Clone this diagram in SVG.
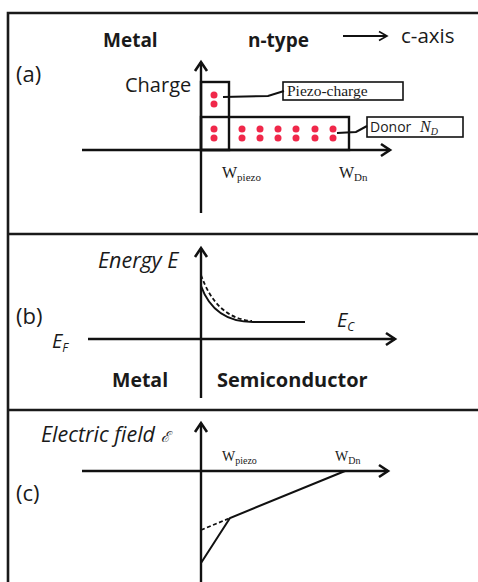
<svg xmlns="http://www.w3.org/2000/svg" width="478" height="582" viewBox="0 0 478 582">
<defs>
<marker id="arr" markerUnits="userSpaceOnUse" markerWidth="16" markerHeight="16" refX="11" refY="7" orient="auto" viewBox="0 0 16 14">
<path d="M2,1 L11,7 L2,13" fill="none" stroke="#111" stroke-width="2.6"/>
</marker>
<marker id="arrs" markerUnits="userSpaceOnUse" markerWidth="14" markerHeight="12" refX="10" refY="6" orient="auto" viewBox="0 0 14 12">
<path d="M2,1.5 L10,6 L2,10.5" fill="none" stroke="#111" stroke-width="1.6"/>
</marker>
<circle id="dot" r="3.5" fill="#f0284a"/>
</defs>
<style>
.frame{stroke:#1a1a1a;stroke-width:2.6;fill:none}
.ax{stroke:#111;stroke-width:2.4;fill:none;marker-end:url(#arr)}
.box{stroke:#111;stroke-width:2.4;fill:none}
.lbl{stroke:#111;stroke-width:1.6;fill:#fff}
.ln{stroke:#111;stroke-width:2;fill:none}
.dash{stroke:#111;stroke-width:1.8;fill:none;stroke-dasharray:4 2.5}
.sb{font-family:"Open Sans","Liberation Sans",sans-serif;font-weight:bold;fill:#1a1a1a}
.sr{font-family:"Open Sans","Liberation Sans",sans-serif;fill:#1a1a1a}
.si{font-family:"Open Sans","Liberation Sans",sans-serif;font-style:italic;fill:#1a1a1a}
.sf{font-family:"Liberation Serif",serif;fill:#1a1a1a}
</style>
<rect width="478" height="582" fill="#fff"/>
<g id="frame">
<path class="frame" d="M8,582 V13 H478 M8,234 H478 M8,410 H478"/>
</g>
<g id="panel-a">
<text class="sr" x="16" y="82" font-size="22">(a)</text>
<text class="sb" x="103" y="47" font-size="19">Metal</text>
<text class="sb" x="248" y="47" font-size="19">n-type</text>
<text class="sr" x="401" y="43" font-size="20.5">c-axis</text>
<text class="sr" x="125" y="92" font-size="20">Charge</text>
<g id="piezo-region">
<rect class="box" x="201" y="82" width="28" height="68"/>
<use href="#dot" x="214" y="95"/><use href="#dot" x="214" y="104"/>
</g>
<g id="donor-region">
<rect class="box" x="201" y="117" width="148" height="33"/>
<use href="#dot" x="214" y="129"/><use href="#dot" x="214" y="138"/>
<use href="#dot" x="242" y="129"/><use href="#dot" x="242" y="138"/>
<use href="#dot" x="260" y="129"/><use href="#dot" x="260" y="138"/>
<use href="#dot" x="278" y="129"/><use href="#dot" x="278" y="138"/>
<use href="#dot" x="296" y="129"/><use href="#dot" x="296" y="138"/>
<use href="#dot" x="315" y="129"/><use href="#dot" x="315" y="138"/>
<use href="#dot" x="333" y="129"/><use href="#dot" x="333" y="138"/>
</g>
<g id="label-piezo">
<rect class="lbl" x="283" y="82" width="120" height="18"/>
<text class="sf" x="287" y="96" font-size="15.5">Piezo-charge</text>
</g>
<g id="label-donor">
<rect class="lbl" x="367" y="117" width="96" height="20"/>
<text class="sr" x="370" y="132" font-size="14">Donor <tspan class="sf" font-style="italic" font-size="16" dx="5">N</tspan><tspan class="sf" font-style="italic" font-size="10" dy="3">D</tspan></text>
</g>
<text class="sf" x="222" y="178" font-size="16">W<tspan font-size="11" dy="3">piezo</tspan></text>
<text class="sf" x="339" y="178" font-size="16">W<tspan font-size="11" dy="3">Dn</tspan></text>
</g>
<g id="panel-b">
<text class="sr" x="16" y="324" font-size="22">(b)</text>
<text class="si" x="98" y="268" font-size="21.5">Energy E</text>
<text class="si" x="52" y="348" font-size="20">E<tspan font-size="12" dy="4">F</tspan></text>
<text class="si" x="337" y="327" font-size="20">E<tspan font-size="12" dy="4">C</tspan></text>
<text class="sb" x="112" y="387" font-size="19.5">Metal</text>
<text class="sb" x="217" y="387" font-size="20">Semiconductor</text>
</g>
<g id="panel-c">
<text class="sr" x="16" y="501" font-size="22">(c)</text>
<text class="si" x="41" y="442" font-size="21.5">Electric field <tspan font-family="'DejaVu Serif',serif" font-size="15">ℰ</tspan></text>
<text class="sf" x="222" y="461" font-size="14">W<tspan font-size="10" dy="3">piezo</tspan></text>
<text class="sf" x="335" y="461" font-size="14">W<tspan font-size="10" dy="3">Dn</tspan></text>
</g>
<g id="connectors">
<line class="ln" x1="343" y1="36" x2="387" y2="36" stroke-width="1.6" marker-end="url(#arrs)"/>
<line class="ax" x1="201" y1="213" x2="201" y2="62"/>
<line class="ax" x1="82" y1="150" x2="390" y2="150"/>
<polyline class="ln" stroke-width="1.6" points="223,97 268,96 284,91"/>
<polyline class="ln" stroke-width="1.6" points="337,133 356,132 367,126"/>
<line class="ax" x1="201" y1="398" x2="201" y2="248"/>
<line class="ax" x1="88" y1="339" x2="395" y2="339"/>
<path class="ln" d="M201,286 C209,308 225,322 253,322 L305,322"/>
<path class="dash" d="M201,275 C211,303 227,319 252,321"/>
<line class="ax" x1="201" y1="582" x2="201" y2="423"/>
<line class="ax" x1="82" y1="471" x2="388" y2="471"/>
<polyline class="ln" points="201,563 230,518 345,471"/>
<line class="dash" x1="201" y1="530" x2="230" y2="518"/>
</g>
</svg>
